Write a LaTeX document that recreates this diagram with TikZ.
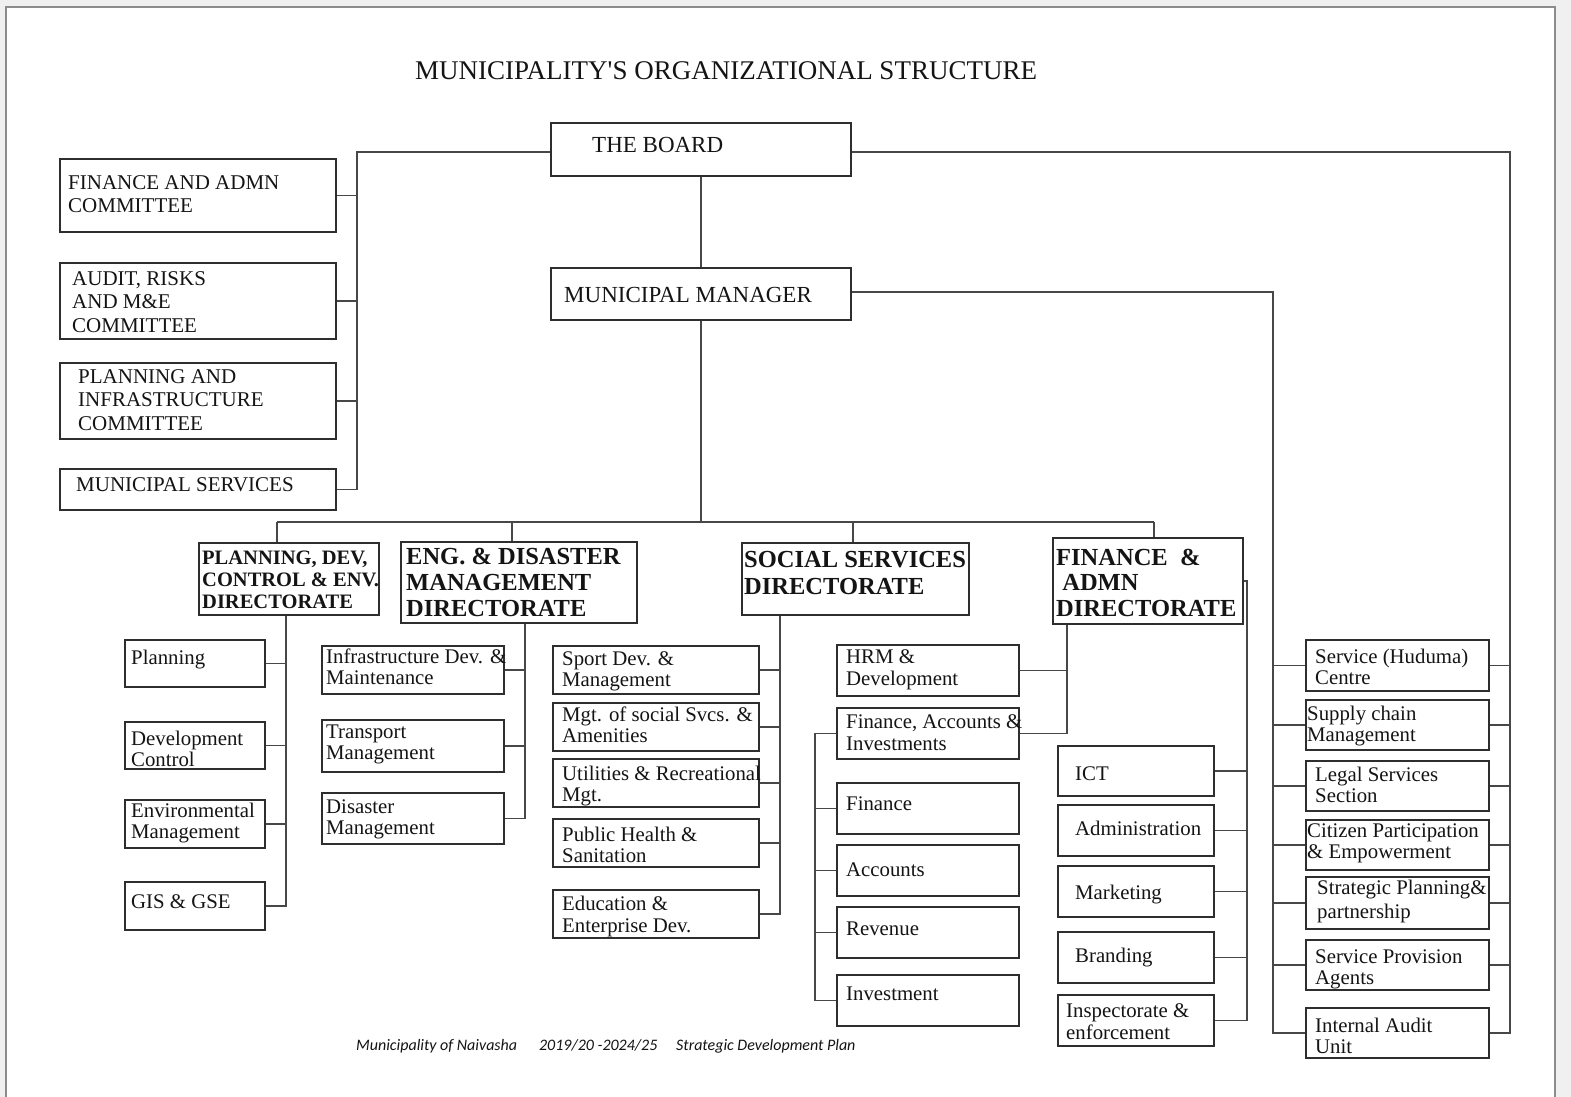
\documentclass[tikz,border=0pt]{standalone}
\usepackage{fontspec}
\setmainfont{Liberation Serif}
\newfontfamily\footfont{Carlito}
\usetikzlibrary{fit}
\newcommand\lns[1]{\begin{tabular}[t]{@{}l@{}}#1\end{tabular}}
\newcommand\mkbox[5]{\node[box, fit={(#2,#3) (#4,#5)}] (#1) {};}
\newcommand\putt[5]{\node[txt,#4] (#1) at (#2,#3) {\lns{#5}};}
\tikzset{
  box/.style={draw=black!82, line width=1.6pt, inner sep=0pt},
  conn/.style={draw=black!72, line width=1.6pt},
  txt/.style={inner sep=0pt, anchor=base west, text=black!92},
  tN/.style={font=\fontsize{20.8}{21.5}\selectfont},
  tC/.style={font=\fontsize{21}{23.7}\selectfont},
  tB/.style={font=\fontsize{23}{25}\selectfont},
  tD/.style={font=\fontsize{24.5}{26}\selectfont\bfseries},
  tDs/.style={font=\fontsize{20.5}{22}\selectfont\bfseries}
}
\begin{document}
\begin{tikzpicture}[x=1pt,y=-1pt]
\useasboundingbox (0,0) rectangle (1571,1097);
% page
\fill[black!6] (0,0) rectangle (1571,1097);
\fill[white] (6,7) rectangle (1555,1097);
\draw[black!45, line width=1.4pt] (6,1097) -- (6,7) -- (1555,7) -- (1555,1097);

% title
\node[txt, font=\fontsize{27}{29}\selectfont] (title) at (415,80) {MUNICIPALITY\textquotesingle S ORGANIZATIONAL STRUCTURE};

% top
\mkbox{board}{551}{123}{851}{176}
\putt{board-t}{592}{153}{tB}{THE BOARD}
\mkbox{mm}{551}{268}{851}{320}
\putt{mm-t}{564}{302}{tB}{MUNICIPAL MANAGER}

% committees
\mkbox{fac}{60}{159}{336}{232}
\putt{fac-t}{68}{189}{tC}{FINANCE AND ADMN\\COMMITTEE}
\mkbox{arc}{60}{263}{336}{339}
\putt{arc-t}{72}{285}{tC}{AUDIT, RISKS\\AND M\&E\\COMMITTEE}
\mkbox{pic}{60}{363}{336}{439}
\putt{pic-t}{78}{383}{tC}{PLANNING AND\\INFRASTRUCTURE\\COMMITTEE}
\mkbox{msv}{60}{469}{336}{510}
\putt{msv-t}{76}{491}{tC}{MUNICIPAL SERVICES}

% directorates
\mkbox{pdir}{199}{543}{379}{615}
\putt{pdir-t}{202}{564}{tDs}{PLANNING, DEV,\\CONTROL \& ENV.\\DIRECTORATE}
\mkbox{edir}{401}{542}{637}{623}
\putt{edir-t}{406}{564}{tD}{ENG. \& DISASTER\\MANAGEMENT\\DIRECTORATE}
\mkbox{sdir}{742}{543}{969}{615}
\putt{sdir-t}{744}{567}{tD}{SOCIAL SERVICES\\[1pt]DIRECTORATE}
\mkbox{fdir}{1053}{538}{1243}{624}
\putt{fdir-t}{1056}{565}{tD}{FINANCE\ \ \&\\[-0.5pt]\ ADMN\\DIRECTORATE}

% planning children
\mkbox{pln}{125}{640}{265}{687}
\putt{pln-t}{131}{664}{tN}{Planning}
\mkbox{dvc}{125}{722}{265}{769}
\putt{dvc-t}{131}{745}{tN}{Development\\Control}
\mkbox{env}{125}{800}{265}{848}
\putt{env-t}{131}{817}{tN}{Environmental\\Management}
\mkbox{gis}{125}{882}{265}{930}
\putt{gis-t}{131}{908}{tN}{GIS \& GSE}

% eng children
\mkbox{inf}{322}{646}{504}{694}
\putt{inf-t}{326}{663}{tN}{Infrastructure Dev. \&\\Maintenance}
\mkbox{trn}{322}{720}{504}{772}
\putt{trn-t}{326}{738}{tN}{Transport\\Management}
\mkbox{dis}{322}{793}{504}{844}
\putt{dis-t}{326}{813}{tN}{Disaster\\Management}

% social children
\mkbox{spt}{553}{646}{759}{694}
\putt{spt-t}{562}{665}{tN}{Sport Dev. \&\\Management}
\mkbox{mgt}{553}{703}{759}{751}
\putt{mgt-t}{562}{721}{tN}{Mgt. of social Svcs. \&\\Amenities}
\mkbox{utl}{553}{759}{759}{807}
\putt{utl-t}{562}{780}{tN}{Utilities \& Recreational\\Mgt.}
\mkbox{pub}{553}{819}{759}{867}
\putt{pub-t}{562}{841}{tN}{Public Health \&\\Sanitation}
\mkbox{edu}{553}{890}{759}{938}
\putt{edu-t}{562}{910}{tN}{Education \&\\[1pt]Enterprise Dev.}

% finance left children
\mkbox{hrm}{837}{645}{1019}{696}
\putt{hrm-t}{846}{663}{tN}{HRM \&\\[1pt]Development}
\mkbox{fai}{837}{708}{1019}{759}
\putt{fai-t}{846}{728}{tN}{Finance, Accounts \&\\[1pt]Investments}
\mkbox{fin}{837}{783}{1019}{834}
\putt{fin-t}{846}{810}{tN}{Finance}
\mkbox{acc}{837}{845}{1019}{896}
\putt{acc-t}{846}{876}{tN}{Accounts}
\mkbox{rev}{837}{907}{1019}{958}
\putt{rev-t}{846}{935}{tN}{Revenue}
\mkbox{inv}{837}{975}{1019}{1026}
\putt{inv-t}{846}{1000}{tN}{Investment}

% finance right children
\mkbox{ict}{1058}{746}{1214}{796}
\putt{ict-t}{1075}{780}{tN}{ICT}
\mkbox{adm}{1058}{805}{1214}{856}
\putt{adm-t}{1075}{835}{tN}{Administration}
\mkbox{mkt}{1058}{866}{1214}{917}
\putt{mkt-t}{1075}{899}{tN}{Marketing}
\mkbox{brd}{1058}{932}{1214}{983}
\putt{brd-t}{1075}{962}{tN}{Branding}
\mkbox{ins}{1058}{995}{1214}{1046}
\putt{ins-t}{1066}{1017}{tN}{Inspectorate \&\\[1pt]enforcement}

% right column
\mkbox{hud}{1306}{640}{1489}{691}
\putt{hud-t}{1315}{663}{tN}{Service (Huduma)\\Centre}
\mkbox{sup}{1306}{700}{1489}{750}
\putt{sup-t}{1307}{720}{tN}{Supply chain\\Management}
\mkbox{leg}{1306}{761}{1489}{811}
\putt{leg-t}{1315}{781}{tN}{Legal Services\\Section}
\mkbox{cit}{1306}{820}{1489}{870}
\putt{cit-t}{1307}{837}{tN}{Citizen Participation\\\& Empowerment}
\mkbox{str}{1306}{877}{1489}{929}
\putt{str-t}{1317}{894}{tN}{Strategic Planning\&\\[2.5pt]partnership}
\mkbox{spa}{1306}{940}{1489}{990}
\putt{spa-t}{1315}{963}{tN}{Service Provision\\Agents}
\mkbox{iau}{1306}{1008}{1489}{1058}
\putt{iau-t}{1315}{1032}{tN}{Internal Audit\\Unit}

% footer
\node[txt, font=\fontsize{16}{18}\selectfont\footfont\itshape] (foot) at (356,1050)
  {\makebox[183pt][l]{Municipality of Naivasha}\makebox[137pt][l]{2019/20 -2024/25}Strategic Development Plan};

% ---------- connectors ----------
\coordinate (lbT) at (357,152);
\coordinate (rbT) at (1510,152);
\coordinate (mbT) at (1273,292);
\draw[conn] (board.west |- lbT) -- (lbT) |- (msv.east);
\foreach \n in {fac,arc,pic} \draw[conn] (\n.east) -- (\n.east -| lbT);
\draw[conn] (board.east |- rbT) -- (rbT) |- (iau.east);
\foreach \n in {hud,sup,leg,cit,str,spa} \draw[conn] (\n.east) -- (\n.east -| rbT);
\draw[conn] (mm.east |- mbT) -- (mbT) |- (iau.west);
\foreach \n in {hud,sup,leg,cit,str,spa} \draw[conn] (\n.west) -- (\n.west -| mbT);
\draw[conn] (board.south) -- (mm.north);

% main bus
\coordinate (d1) at (277,522);
\coordinate (d2) at (512,522);
\coordinate (d3) at (853,522);
\coordinate (d4) at (1154,522);
\draw[conn] (mm.south) -- (mm.south |- d1);
\draw[conn] (d1) -- (d4);
\draw[conn] (d1) -- (d1 |- pdir.north);
\draw[conn] (d2) -- (d2 |- edir.north);
\draw[conn] (d3) -- (d3 |- sdir.north);
\draw[conn] (d4) -- (d4 |- fdir.north);

% planning
\coordinate (pb) at (286,615);
\draw[conn] (pdir.south -| pb) |- (gis.east);
\foreach \n in {pln,dvc,env} \draw[conn] (\n.east) -- (\n.east -| pb);
% eng
\coordinate (eb) at (525,623);
\draw[conn] (edir.south -| eb) |- (dis.east);
\foreach \n in {inf,trn} \draw[conn] (\n.east) -- (\n.east -| eb);
% social
\coordinate (sb) at (780,615);
\draw[conn] (sdir.south -| sb) |- (edu.east);
\foreach \n in {spt,mgt,utl,pub} \draw[conn] (\n.east) -- (\n.east -| sb);
% finance left
\coordinate (fb) at (1067,624);
\draw[conn] (fdir.south -| fb) |- (fai.east);
\draw[conn] (hrm.east) -- (hrm.east -| fb);
\coordinate (fab) at (815,733);
\draw[conn] (fai.west) -- (fai.west -| fab) |- (inv.west);
\foreach \n in {fin,acc,rev} \draw[conn] (\n.west) -- (\n.west -| fab);
% finance right
\coordinate (frb) at (1247,582);
\draw[conn] (fdir.east) -- (fdir.east -| frb) |- (ins.east);
\foreach \n in {ict,adm,mkt,brd} \draw[conn] (\n.east) -- (\n.east -| frb);
\end{tikzpicture}
\end{document}
